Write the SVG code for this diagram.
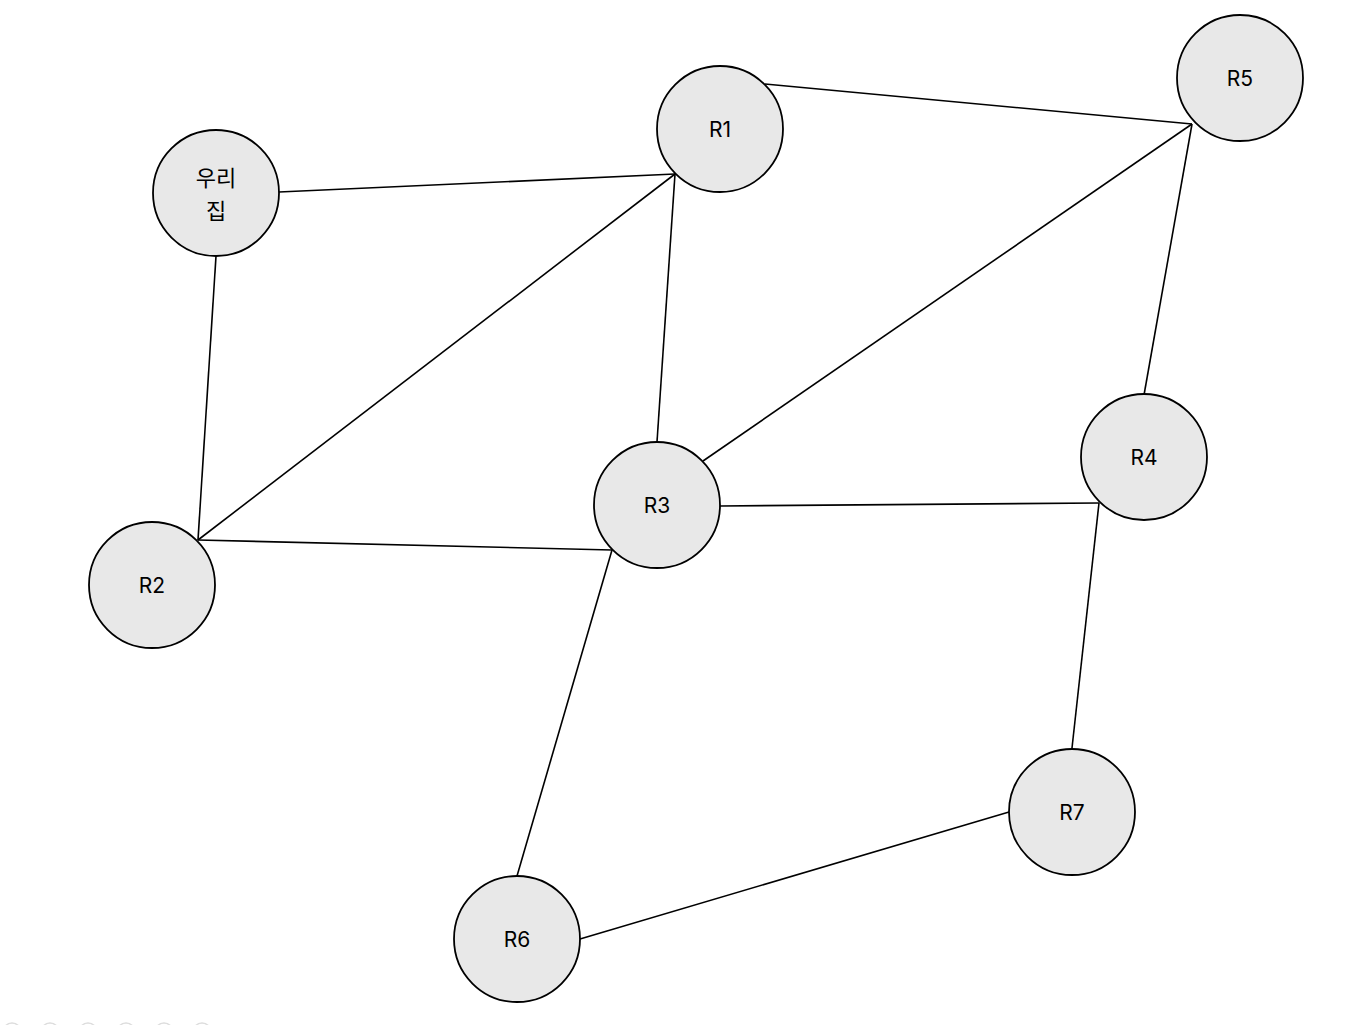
<svg xmlns="http://www.w3.org/2000/svg" width="1366" height="1025" viewBox="0 0 1366 1025">
<style>
.n circle{fill:#e8e8e8;stroke:#000;stroke-width:1.8}
.n text{font-family:Inter,"Noto Sans CJK KR","Liberation Sans",sans-serif;font-size:21px;fill:#000;text-anchor:middle;dominant-baseline:central}
.n text.k{font-family:"Noto Sans CJK KR",sans-serif;font-size:22px}
.e line{stroke:#000;stroke-width:1.6}
.d circle{fill:none;stroke:#ddd;stroke-width:1.5}
</style>
<rect width="1366" height="1025" fill="#fff"/>
<g class="e" id="connectors">
<line x1="279" y1="192" x2="675" y2="174"/>
<line x1="216" y1="256" x2="198" y2="540"/>
<line x1="765" y1="84" x2="1192" y2="124"/>
<line x1="675" y1="174" x2="198" y2="540"/>
<line x1="675" y1="174" x2="657" y2="442"/>
<line x1="1192" y1="124" x2="703" y2="461"/>
<line x1="1192" y1="124" x2="1144" y2="395"/>
<line x1="198" y1="540" x2="612" y2="550"/>
<line x1="720" y1="506" x2="1099" y2="503"/>
<line x1="1099" y1="503" x2="1072" y2="748"/>
<line x1="612" y1="550" x2="517" y2="876"/>
<line x1="580" y1="939" x2="1009" y2="812"/>
</g>
<g class="n" id="home"><circle cx="216" cy="193" r="63"/><text class="k" x="216" y="176">우리</text><text class="k" x="216" y="209">집</text></g>
<g class="n" id="R1"><circle cx="720" cy="129" r="63"/><text x="720" y="129">R1</text></g>
<g class="n" id="R5"><circle cx="1240" cy="78" r="63"/><text x="1240" y="78">R5</text></g>
<g class="n" id="R2"><circle cx="152" cy="585" r="63"/><text x="152" y="585">R2</text></g>
<g class="n" id="R3"><circle cx="657" cy="505" r="63"/><text x="657" y="505">R3</text></g>
<g class="n" id="R4"><circle cx="1144" cy="457" r="63"/><text x="1144" y="457">R4</text></g>
<g class="n" id="R7"><circle cx="1072" cy="812" r="63"/><text x="1072" y="812">R7</text></g>
<g class="n" id="R6"><circle cx="517" cy="939" r="63"/><text x="517" y="939">R6</text></g>
<g class="d" id="dots">
<circle cx="12" cy="1032" r="9"/><circle cx="50" cy="1032" r="9"/><circle cx="88" cy="1032" r="9"/><circle cx="126" cy="1032" r="9"/><circle cx="164" cy="1032" r="9"/><circle cx="202" cy="1032" r="9"/>
</g>
</svg>
